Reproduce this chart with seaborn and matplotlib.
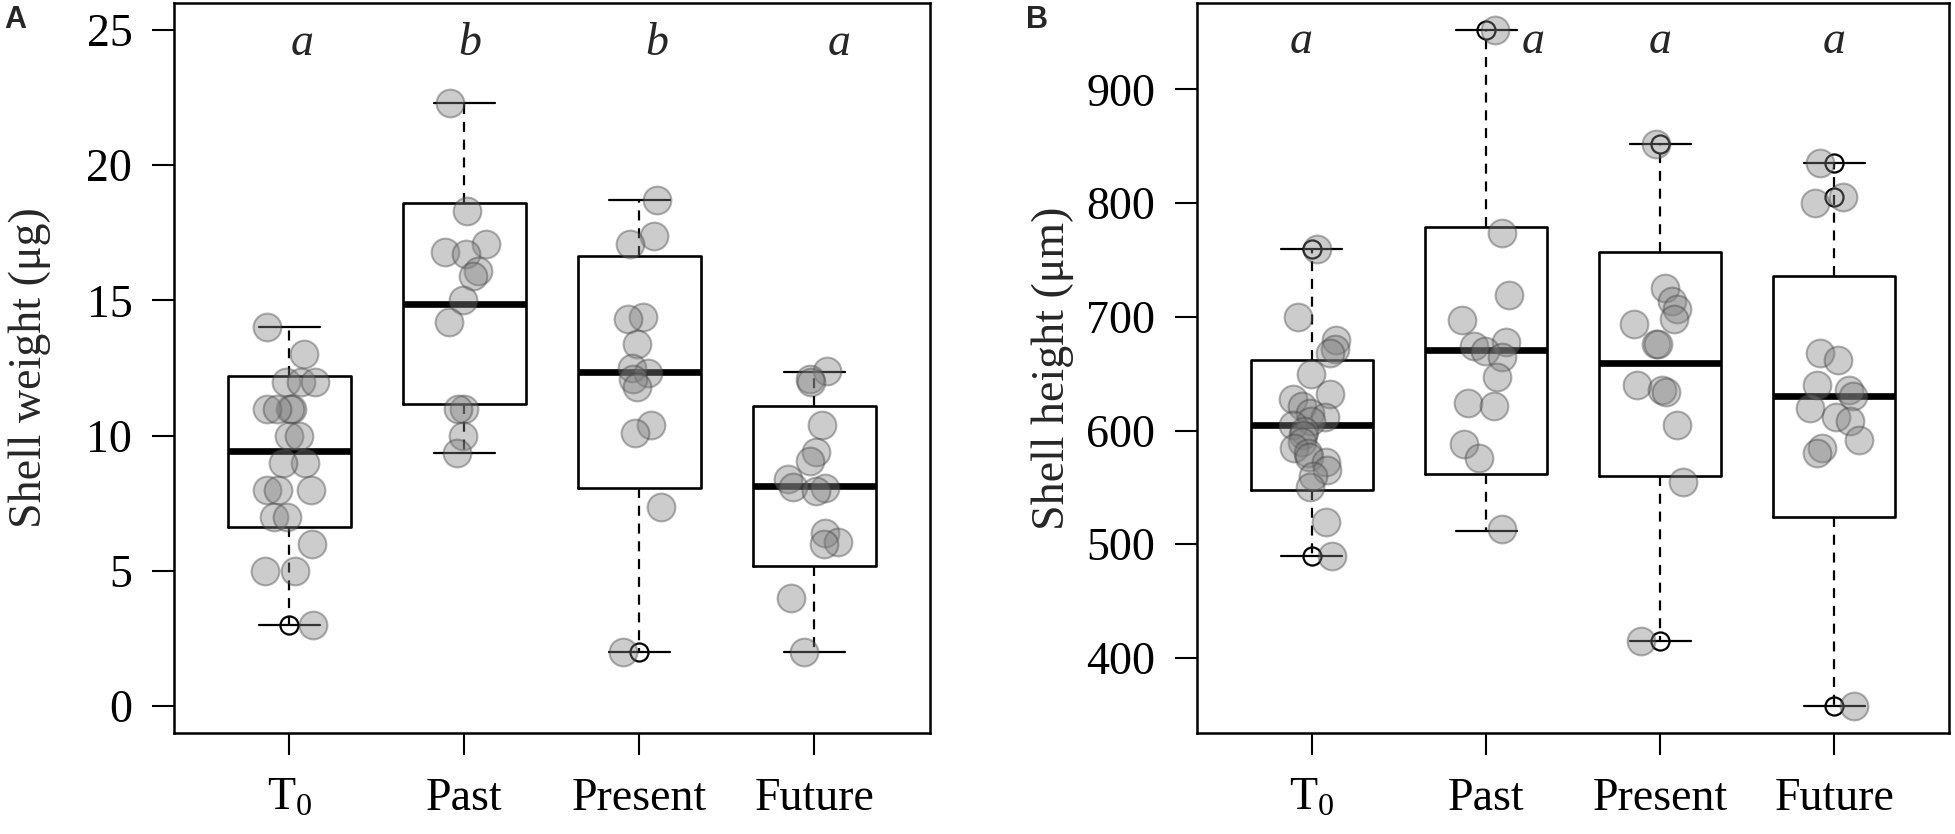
import matplotlib.pyplot as plt
import numpy as np
import pandas as pd
import seaborn as sns

groups = ["T0", "Past", "Present", "Future"]
tick_labels = ["T$_0$", "Past", "Present", "Future"]

# Panel A: shell weight (ug), individual larvae
weight_t0 = [14.0, 13.0, 12.0, 12.0, 12.0, 11.0, 11.0, 11.0, 11.0, 10.0, 10.0,
             9.0, 9.0, 8.0, 8.0, 8.0, 7.0, 7.0, 6.0, 5.0, 5.0, 3.0]
weight_past = [22.3, 18.3, 17.1, 16.8, 16.7, 16.1, 15.9, 15.0, 14.2, 11.0, 11.0,
               10.0, 9.35]
weight_present = [18.7, 17.4, 17.1, 14.4, 14.3, 13.4, 12.5, 12.3, 12.1, 11.8,
                  10.4, 10.1, 7.35, 2.0]
weight_future = [12.4, 12.1, 12.0, 10.4, 9.4, 9.05, 8.4, 8.1, 8.05, 7.95, 6.4,
                 6.05, 6.0, 4.0, 2.0]

# box summaries as drawn in the figure
weight_whislo = [3.0, 9.35, 2.0, 2.0]
weight_q1 = [6.63, 11.17, 8.08, 5.19]
weight_med = [9.44, 14.87, 12.35, 8.12]
weight_q3 = [12.2, 18.6, 16.64, 11.09]
weight_whishi = [14.0, 22.3, 18.7, 12.35]
weight_fliers = [[3.0], [], [2.0], []]
weight_letters = ["a", "b", "b", "a"]

# Panel B: shell height (um)
height_t0 = [760, 700, 680, 672, 668, 650, 632, 628, 622, 615, 612, 608, 605,
             600, 596, 590, 585, 580, 577, 572, 565, 560, 550, 520, 490]
height_past = [952, 774, 719, 697, 678, 674, 670, 665, 647, 624, 622, 588, 576,
               513]
height_present = [852, 725, 714, 707, 698, 694, 676, 676, 640, 636, 634, 605,
                  555, 415]
height_future = [835, 805, 800, 668, 662, 640, 636, 630, 620, 612, 608, 592,
                 585, 580, 358]

height_whislo = [490, 512, 415, 358]
height_q1 = [548, 562, 560, 524]
height_med = [605, 671, 659, 630]
height_q3 = [662, 779, 757, 736]
height_whishi = [760, 952, 852, 835]
height_fliers = [[760, 490], [952], [852, 415], [835, 805, 358]]
height_letters = ["a", "a", "a", "a"]

sns.set_style("ticks")
plt.rcParams["font.family"] = ["Liberation Serif", "DejaVu Serif"]
plt.rcParams["mathtext.fontset"] = "custom"
plt.rcParams["mathtext.rm"] = "Liberation Serif"
plt.rcParams["mathtext.it"] = "Liberation Serif:italic"

np.random.seed(7)


def long_df(series):
    rows = []
    for g, vals in zip(groups, series):
        rows += [(g, v) for v in vals]
    return pd.DataFrame(rows, columns=["group", "value"])


def box_stats(lo, q1, med, q3, hi, fliers):
    return [dict(whislo=a, q1=b, med=c, q3=d, whishi=e, fliers=f)
            for a, b, c, d, e, f in zip(lo, q1, med, q3, hi, fliers)]


def draw_panel(ax, df, stats, letters, letter_y, letter_dx, ylim, yticks, ylabel):
    # jittered points
    sns.stripplot(data=df, x="group", y="value", order=groups, ax=ax,
                  jitter=0.15, size=20, color="#808080", alpha=0.4,
                  edgecolor="#404040", linewidth=1.5, zorder=3)

    # boxes
    ax.bxp(stats, positions=range(len(groups)), widths=0.7, capwidths=0.35,
           manage_ticks=False, showfliers=True,
           boxprops=dict(color="black", linewidth=1.9),
           medianprops=dict(color="black", linewidth=4.8, solid_capstyle="butt"),
           whiskerprops=dict(color="black", linewidth=1.6, linestyle=(0, (4.5, 3.5))),
           capprops=dict(color="black", linewidth=1.6),
           flierprops=dict(marker="o", markerfacecolor="none",
                           markeredgecolor="black", markersize=13,
                           markeredgewidth=1.6))

    for i, (lab, dx) in enumerate(zip(letters, letter_dx)):
        ax.text(i + dx, letter_y, lab, style="italic", fontsize=33,
                ha="center", va="baseline")

    ax.set_xlim(-0.66, 3.66)
    ax.set_ylim(*ylim)
    ax.set_yticks(yticks)
    ax.set_xticks(range(len(groups)))
    ax.set_xticklabels(tick_labels)
    ax.set_xlabel("")
    ax.set_ylabel(ylabel, fontsize=33)
    ax.yaxis.set_label_coords(-0.163, 0.5)

    for s in ax.spines.values():
        s.set_visible(True)
        s.set_linewidth(1.8)
        s.set_color("black")
    ax.tick_params(axis="both", direction="out", length=16, width=1.5,
                   labelsize=33, colors="black")
    ax.tick_params(axis="y", pad=14)
    ax.tick_params(axis="x", pad=16)


fig = plt.figure(figsize=(19.55, 8.34), dpi=100)
ax_a = fig.add_axes([0.089, 0.1211, 0.3867, 0.8753])
ax_b = fig.add_axes([0.6123, 0.1211, 0.3847, 0.8753])

draw_panel(ax_a,
           long_df([weight_t0, weight_past, weight_present, weight_future]),
           box_stats(weight_whislo, weight_q1, weight_med, weight_q3,
                     weight_whishi, weight_fliers),
           weight_letters, 24.07, [0.07, 0.03, 0.1, 0.14],
           (-1, 26), [0, 5, 10, 15, 20, 25], "Shell weight (μg)")

draw_panel(ax_b,
           long_df([height_t0, height_past, height_present, height_future]),
           box_stats(height_whislo, height_q1, height_med, height_q3,
                     height_whishi, height_fliers),
           height_letters, 931.6, [-0.06, 0.27, 0.0, 0.0],
           (334, 976), [400, 500, 600, 700, 800, 900], "Shell height (μm)")

fig.text(15 / 1955, 1 - 20 / 834, "A", family="Liberation Sans",
         weight="bold", fontsize=22, ha="center", va="center")
fig.text(1037 / 1955, 1 - 20 / 834, "B", family="Liberation Sans",
         weight="bold", fontsize=22, ha="center", va="center")

fig.savefig("out.png", dpi=100, facecolor="white")
